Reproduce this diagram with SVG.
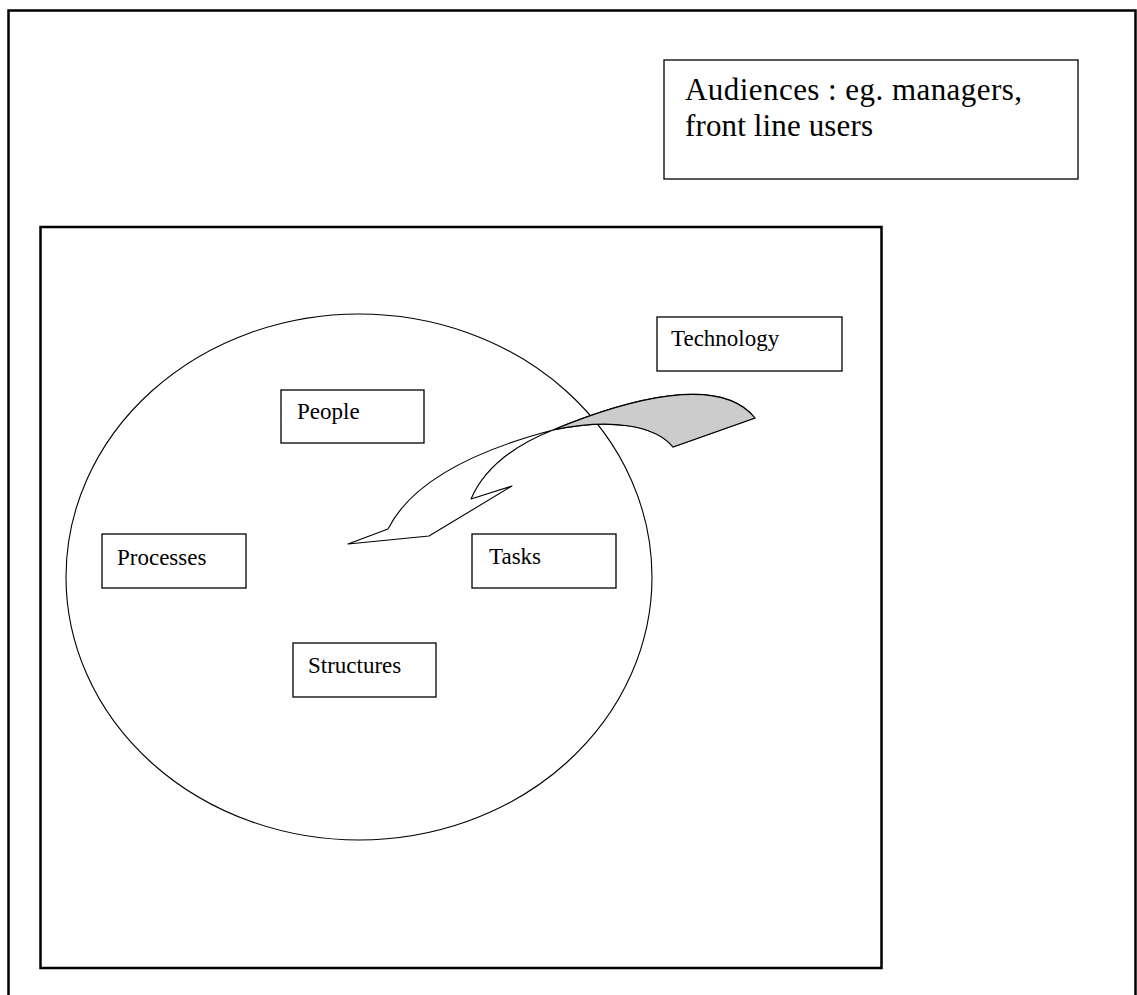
<svg xmlns="http://www.w3.org/2000/svg" width="1137" height="995" viewBox="0 0 1137 995">
<style>
.frame{fill:none;stroke:#000;stroke-width:2.5}
.box{fill:#fff;stroke:#000;stroke-width:1.3}
.lbl{font-family:"Liberation Serif","Times New Roman",serif;font-size:23px;fill:#000}
.big{font-family:"Liberation Serif","Times New Roman",serif;font-size:31px;fill:#000}
</style>
<rect width="1137" height="995" fill="#fff"/>
<rect class="frame" x="8.5" y="10.5" width="1127" height="1000"/>
<rect class="frame" x="40.5" y="227" width="841" height="741"/>
<g id="audiences">
<rect class="box" x="664" y="60" width="414" height="119"/>
<text class="big" x="685" y="100" textLength="337" lengthAdjust="spacing">Audiences : eg. managers,</text>
<text class="big" x="685" y="136" textLength="188" lengthAdjust="spacing">front line users</text>
</g>
<g id="organisation">
<ellipse cx="359" cy="577" rx="293" ry="263" fill="none" stroke="#000" stroke-width="1.1"/>
</g>
<g id="technology">
<rect class="box" x="657" y="317" width="185" height="54"/>
<text class="lbl" x="671" y="346">Technology</text>
</g>
<g id="people">
<rect class="box" x="281" y="390" width="143" height="53"/>
<text class="lbl" x="297" y="419">People</text>
</g>
<g id="processes">
<rect class="box" x="102" y="534" width="144" height="54"/>
<text class="lbl" x="117" y="565">Processes</text>
</g>
<g id="tasks">
<rect class="box" x="472" y="534" width="144" height="54"/>
<text class="lbl" x="489" y="564">Tasks</text>
</g>
<g id="structures">
<rect class="box" x="293" y="643" width="143" height="54"/>
<text class="lbl" x="308" y="673">Structures</text>
</g>
<g id="connectors">
<path d="M348,544 L388,529 Q420,465 553,430 C630,398 720,375 755,418 L673,447 C655,425 610,418 553,430 Q490,455 471,499 L512,486 L429,536 Z" fill="#fff" stroke="#000" stroke-width="1.1" stroke-linejoin="round"/>
<path d="M553,430 C630,398 720,375 755,418 L673,447 C655,425 610,418 553,430 Z" fill="#cccccc" stroke="#000" stroke-width="1.1" stroke-linejoin="round"/>
</g>
</svg>
